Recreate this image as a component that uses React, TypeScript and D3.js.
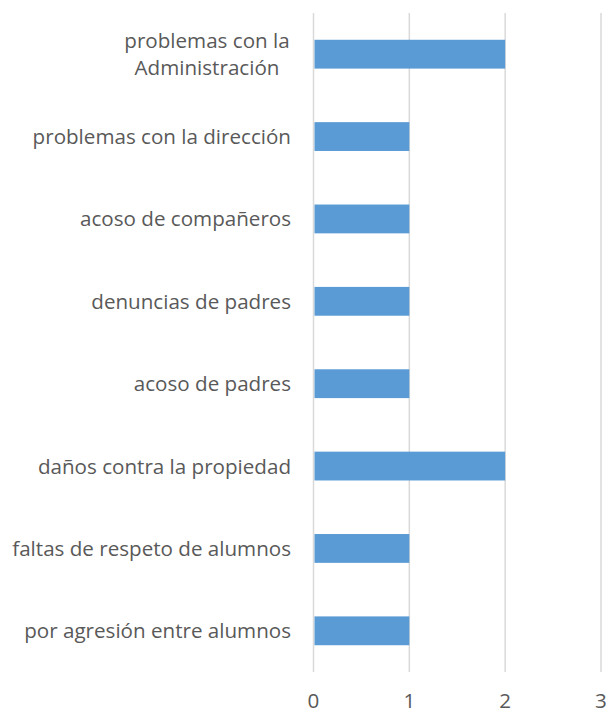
import React from "react";
import * as d3 from "d3";

const categories: string[][] = [
  ["problemas con la", "Administración"],
  ["problemas con la dirección"],
  ["acoso de compañeros"],
  ["denuncias de padres"],
  ["acoso de padres"],
  ["daños contra la propiedad"],
  ["faltas de respeto de alumnos"],
  ["por agresión entre alumnos"],
];
const values: number[] = [2, 1, 1, 1, 1, 2, 1, 1];
const ticks: number[] = [0, 1, 2, 3];

const W = 606;
const H = 711;
const left = 313.5;
const right = 601;
const top = 13;
const bottom = 672;

export default function App() {
  const x = d3.scaleLinear().domain([0, 3]).range([left, right]);
  const y = d3
    .scaleBand<number>()
    .domain(d3.range(categories.length))
    .range([top, bottom])
    .paddingInner(0.65)
    .paddingOuter(0.325);
  const font = "'Open Sans', sans-serif";
  const fs = 20.6;
  return (
    <svg width={W} height={H} style={{ position: "absolute", left: 0, top: 0 }}>
      <rect width={W} height={H} fill="#fff" />
      {ticks.map((t) => (
        <line key={t} x1={x(t)} x2={x(t)} y1={top} y2={bottom} stroke="#d9d9d9" strokeWidth={1.5} />
      ))}
      {values.map((v, i) => (
        <rect key={i} x={x(0) + 1} y={y(i)!} width={x(v) - x(0) - 1} height={y.bandwidth()} fill="#5b9bd5" />
      ))}
      {categories.map((lines, i) => {
        const cy = y(i)! + y.bandwidth() / 2;
        const lh = 27;
        const start = cy - ((lines.length - 1) * lh) / 2;
        const multi = lines.length > 1;
        return (
          <text
            key={i}
            textAnchor={multi ? "middle" : "end"}
            fontFamily={font}
            fontSize={fs}
            fill="#595959"
          >
            {lines.map((l, j) => (
              <tspan key={j} x={multi ? 207 : 291} y={start + j * lh + 7.5}>
                {l}
              </tspan>
            ))}
          </text>
        );
      })}
      {ticks.map((t) => (
        <text key={t} x={x(t)} y={708} textAnchor="middle" fontFamily={font} fontSize={fs} fill="#595959">
          {t}
        </text>
      ))}
    </svg>
  );
}
